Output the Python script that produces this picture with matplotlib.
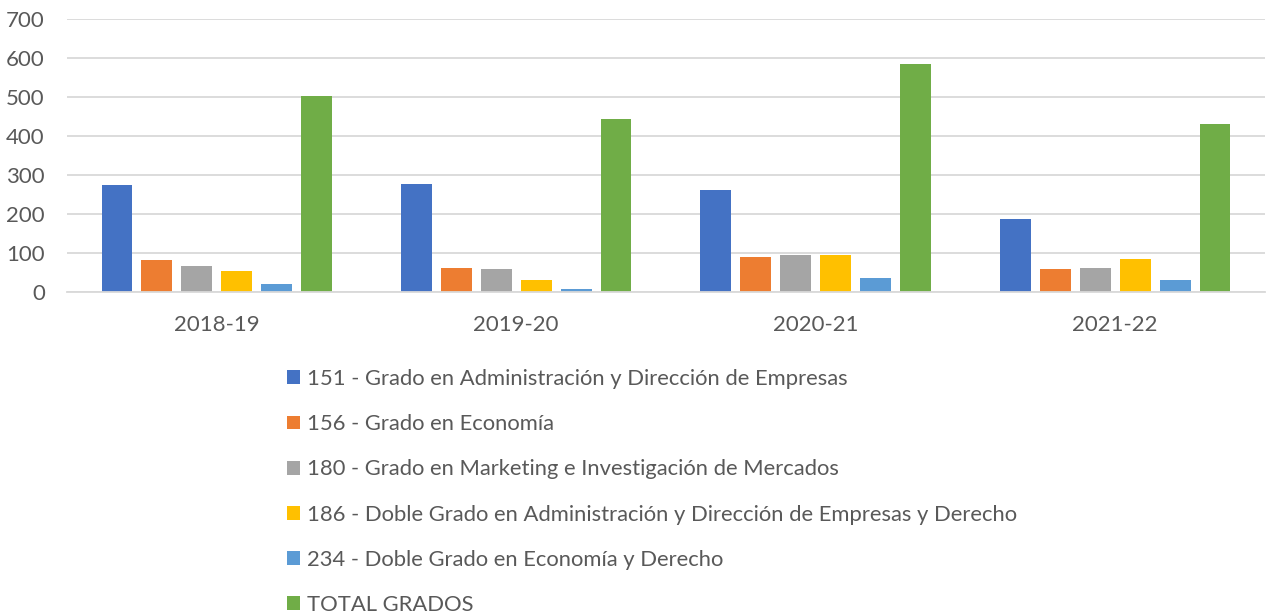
import matplotlib
matplotlib.use("Agg")
import matplotlib.pyplot as plt
import numpy as np

categories = ["2018-19", "2019-20", "2020-21", "2021-22"]
series_names = [
    "151 - Grado en Administración y Dirección de Empresas",
    "156 - Grado en Economía",
    "180 - Grado en Marketing e Investigación de Mercados",
    "186 - Doble Grado en Administración y Dirección de Empresas y Derecho",
    "234 - Doble Grado en Economía y Derecho",
    "TOTAL GRADOS",
]
s151 = [275, 277, 262, 188]
s156 = [82, 62, 90, 60]
s180 = [67, 59, 96, 62]
s186 = [54, 33, 95, 87]
s234 = [23, 9, 37, 31]
total = [503, 444, 585, 431]
colors = ["#4472C4", "#ED7D31", "#A5A5A5", "#FFC000", "#5B9BD5", "#70AD47"]
yticks = [0, 100, 200, 300, 400, 500, 600, 700]

plt.rcParams['font.family'] = ['Lato', 'DejaVu Sans']
text_color = "#595959"

fig = plt.figure(figsize=(12.69, 6.15), dpi=100)
ax = fig.add_axes([0.0528, 0.5244, 0.9440, 0.4446])

data = [s151, s156, s180, s186, s234, total]
x = np.arange(len(categories))
step = 0.1333
width = 0.103
handles = []
for i, (vals, c, name) in enumerate(zip(data, colors, series_names)):
    offs = (i - 2.5) * step
    b = ax.bar(x + offs, vals, width=width, color=c, label=name, zorder=3)
    handles.append(b)

ax.set_xlim(-0.5, len(categories) - 0.5)
ax.set_ylim(0, 700)
ax.set_yticks(yticks)
ax.set_xticks(x)
ax.set_xticklabels(categories)
ax.tick_params(axis='both', length=0, labelsize=16, colors=text_color)
ax.tick_params(axis='x', pad=16)
ax.tick_params(axis='y', pad=16)
ax.grid(axis='y', color="#D9D9D9", linewidth=1.3, zorder=0)
for s in ['top', 'right', 'left']:
    ax.spines[s].set_visible(False)
ax.spines['bottom'].set_color("#D9D9D9")
ax.spines['bottom'].set_linewidth(1.3)
ax.spines['bottom'].set_zorder(4)

leg = fig.legend(handles=handles, labels=series_names, loc='upper left',
                 bbox_to_anchor=(0.226, 0.400), frameon=False, fontsize=15.8,
                 handlelength=0.6, handleheight=0.6, handletextpad=0.3,
                 labelspacing=1.15, borderpad=0, borderaxespad=0)
for t in leg.get_texts():
    t.set_color(text_color)

fig.savefig("out.png", dpi=100)
